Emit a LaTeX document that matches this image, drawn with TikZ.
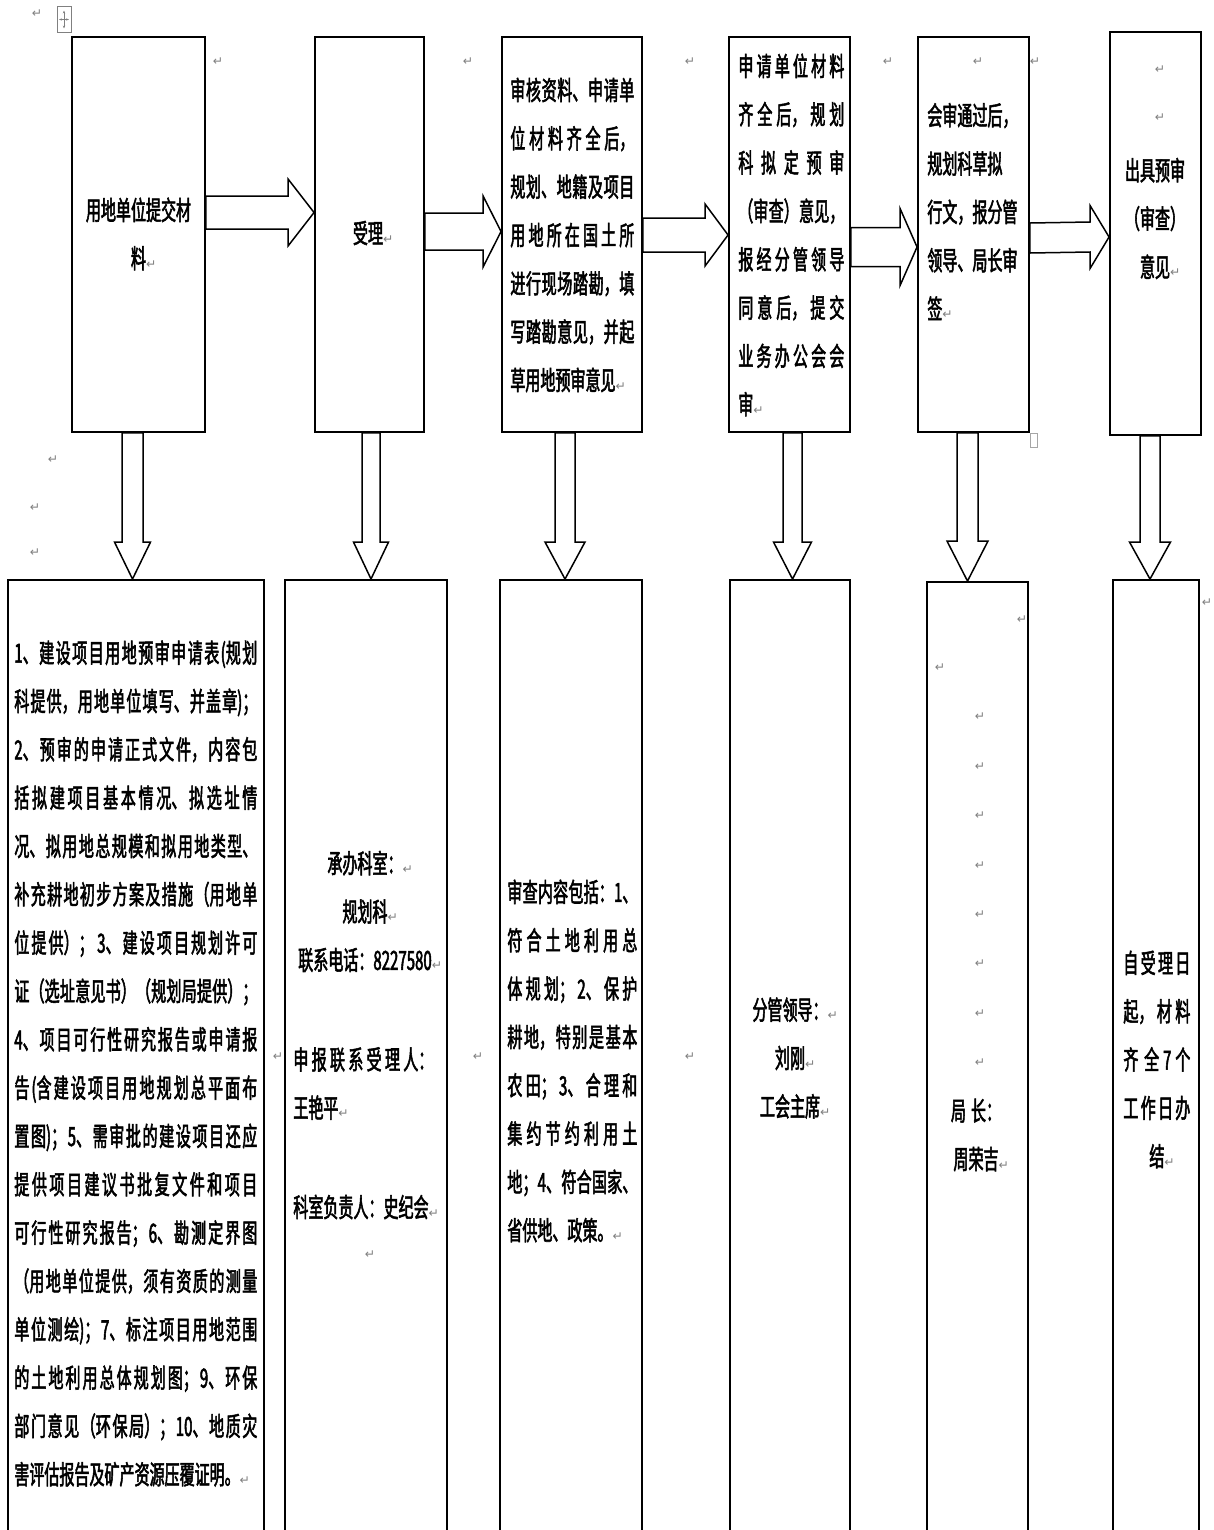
\documentclass[tikz,border=0pt]{standalone}
\usepackage{fontspec}
\usetikzlibrary{calc,arrows.meta}
\newfontfamily\cjkfont[FakeStretch=0.57,FakeBold=2]{Noto Sans CJK SC}
\newfontfamily\markfont{DejaVu Sans}
\XeTeXlinebreaklocale "zh"
\XeTeXlinebreakskip=0pt plus 10pt
\newcommand{\retmark}{{\color{gray}\markfont\fontsize{7pt}{7pt}\selectfont ↵}}
\newcommand{\harrow}[6]{%
  \draw[barrow] ($(#1.east)+(0,#3-#4)$) -- ($(#2.west)+(-#6,#3-#4)$)
    -- ($(#2.west)+(-#6,#3-#5)$) -- ($(#2.west)+(0,#3)$)
    -- ($(#2.west)+(-#6,#3+#5)$) -- ($(#2.west)+(-#6,#3+#4)$)
    -- ($(#1.east)+(0,#3+#4)$) -- cycle;}
\newcommand{\varrow}[6]{%
  \draw[barrow] ($(#1.south)+(#3-#4,0)$) -- ($(#1.south |- #2.north)+(#3-#4,-#6)$)
    -- ($(#1.south |- #2.north)+(#3-#5,-#6)$) -- ($(#1.south |- #2.north)+(#3,0)$)
    -- ($(#1.south |- #2.north)+(#3+#5,-#6)$) -- ($(#1.south |- #2.north)+(#3+#4,-#6)$)
    -- ($(#1.south)+(#3+#4,0)$) -- cycle;}
\begin{document}
\begin{tikzpicture}[x=0.2mm,y=-0.2mm,
box/.style 2 args={draw,line width=0.38mm,minimum width=#1,minimum height=#2,inner sep=0pt},
txt/.style={inner sep=0pt,font=\cjkfont\fontsize{15pt}{27.5pt}\selectfont},
para/.style={txt,text width=#1,align=justify,anchor=west},
barrow/.style={draw,fill=white,line width=0.3mm},
pmark/.style={inner sep=0pt,text=gray,font=\markfont\fontsize{7pt}{7pt}\selectfont}]
\useasboundingbox (0,0) rectangle (1214,1530);
\clip (0,0) rectangle (1214,1530);

\node[box={26.6mm}{79mm}] (t1) at (138.5,234.5) {};
\node[box={21.8mm}{79mm}] (t2) at (369.5,234.5) {};
\node[box={28mm}{79mm}] (t3) at (572,234.5) {};
\node[box={24.2mm}{79mm}] (t4) at (789.5,234.5) {};
\node[box={22.2mm}{79mm}] (t5) at (973.5,234.5) {};
\node[box={18.2mm}{80.6mm}] (t6) at (1155.5,233.5) {};
\node[box={51.2mm}{193mm}] (b1) at (136,1062.5) {};
\node[box={32.4mm}{193mm}] (b2) at (366,1062.5) {};
\node[box={28.4mm}{193mm}] (b3) at (571,1062.5) {};
\node[box={24mm}{193mm}] (b4) at (790,1062.5) {};
\node[box={20.2mm}{192.6mm}] (b5) at (977.5,1063.5) {};
\node[box={17.2mm}{193mm}] (b6) at (1156,1062.5) {};

\harrow{t1}{t2}{-22}{16.5}{33.5}{26}
\harrow{t2}{t3}{-3}{18.5}{35.5}{18}
\harrow{t3}{t4}{0.5}{17}{31}{23}
\harrow{t4}{t5}{12.5}{19.5}{38.5}{17}
\harrow{t5}{t6}{3.5}{15}{31.5}{19}
\varrow{t1}{b1}{-6}{10.5}{18}{37}
\varrow{t2}{b2}{1.5}{9}{17.5}{37}
\varrow{t3}{b3}{-7}{10}{20}{37}
\varrow{t4}{b4}{3}{9.5}{19}{37}
\varrow{t5}{b5}{-6}{10.5}{20.5}{40}
\varrow{t6}{b6}{-5.5}{10}{20.5}{37}

\node[txt,align=center] (s1) at (138.5,234) {用地单位提交材\\料\rlap{\retmark}};
\node[txt] (s2) at (368,233) {受理\rlap{\retmark}};
\node[para=24.8mm] (s3) at (510,235) {审核资料、申请单\linebreak 位材料齐全后，\linebreak 规划、地籍及项目\linebreak 用地所在国土所\linebreak 进行现场踏勘，填\linebreak 写踏勘意见，并起\linebreak 草用地预审意见\retmark};
\node[para=21.2mm] (s4) at (738,235) {申请单位材料\linebreak 齐全后，规划\linebreak 科拟定预审\linebreak （审查）意见，\linebreak 报经分管领导\linebreak 同意后，提交\linebreak 业务办公会会\linebreak 审\retmark};
\node[txt,align=left,anchor=west] (s5) at (927,211.5) {会审通过后，\\规划科草拟\\行文，报分管\\领导、局长审\\签\retmark};
\node[txt,align=center] (s6) at (1155,218.5) {出具预审\\（审查）\\意见\rlap{\retmark}};

\node[para=48.6mm] (u1) at (14,1063.5) {1、建设项目用地预审申请表(规划\linebreak 科提供，用地单位填写、并盖章)；\linebreak 2、预审的申请正式文件，内容包\linebreak 括拟建项目基本情况、拟选址情\linebreak 况、拟用地总规模和拟用地类型、\linebreak 补充耕地初步方案及措施（用地单\linebreak 位提供）； 3、建设项目规划许可\linebreak 证（选址意见书）（规划局提供）；\linebreak 4、项目可行性研究报告或申请报\linebreak 告(含建设项目用地规划总平面布\linebreak 置图)；5、需审批的建设项目还应\linebreak 提供项目建议书批复文件和项目\linebreak 可行性研究报告；6、勘测定界图\linebreak （用地单位提供，须有资质的测量\linebreak 单位测绘)；7、标注项目用地范围\linebreak 的土地利用总体规划图；9、环保\linebreak 部门意见（环保局）；10、地质灾\linebreak 害评估报告及矿产资源压覆证明。\retmark};
\node[txt,align=center] (u2) at (365,911.5) {承办科室：\rlap{\retmark}\\规划科\rlap{\retmark}\\联系电话：8227580\rlap{\retmark}};
\node[para=28mm] (u3) at (293,1083.5) {申报联系受理人：\linebreak 王艳平\retmark};
\node[txt,anchor=west] (u4) at (293,1207) {科室负责人：史纪会\retmark};
\node[para=26mm] (u5) at (507,1061) {审查内容包括：1、\linebreak 符合土地利用总\linebreak 体规划；2、保护\linebreak 耕地，特别是基本\linebreak 农田；3、合理和\linebreak 集约节约利用土\linebreak 地；4、符合国家、\linebreak 省供地、政策。\retmark};
\node[txt,align=center] (u6) at (790,1058) {分管领导：\rlap{\retmark}\\刘刚\rlap{\retmark}\\工会主席\rlap{\retmark}};
\node[txt,align=center] (u7) at (976,1135) {局\hspace{1mm}长：\\周荣吉\rlap{\retmark}};
\node[para=13.4mm] (u8) at (1123,1059.5) {自受理日\linebreak 起，材料\linebreak 齐全 7 个\linebreak 工作日办\linebreak \hspace*{\fill}结\rlap{\retmark}\hspace*{\fill}\null};

\foreach \x/\y [count=\i] in {37/14,218/62,468/62,690/62,888/62,978/62,1035/62,1160/70,1160/118,53/460,35/508,35/553,278/1057,478/1057,690/1057,1207/603,1022/620,940/668,370/1255}
  \node[pmark] (m\i) at (\x,\y) {↵};
\foreach \k in {0,...,7}
  \node[pmark] (c\k) at (980,717+49.4*\k) {↵};

\node[draw=gray,line width=0.2mm,minimum width=2.8mm,minimum height=5.2mm,inner sep=0pt] (handle) at (64,19.5) {};
\draw[gray,line width=0.15mm,{Stealth[length=0.6mm]}-{Stealth[length=0.6mm]}] ($(handle.center)+(-5,0)$) -- ($(handle.center)+(5,0)$);
\draw[gray,line width=0.15mm,{Stealth[length=0.6mm]}-{Stealth[length=0.6mm]}] ($(handle.center)+(0,-9)$) -- ($(handle.center)+(0,9)$);
\node[draw=gray!70,line width=0.15mm,minimum width=1.4mm,minimum height=2.8mm,inner sep=0pt] (corner) at (1034,440) {};
\end{tikzpicture}
\end{document}
